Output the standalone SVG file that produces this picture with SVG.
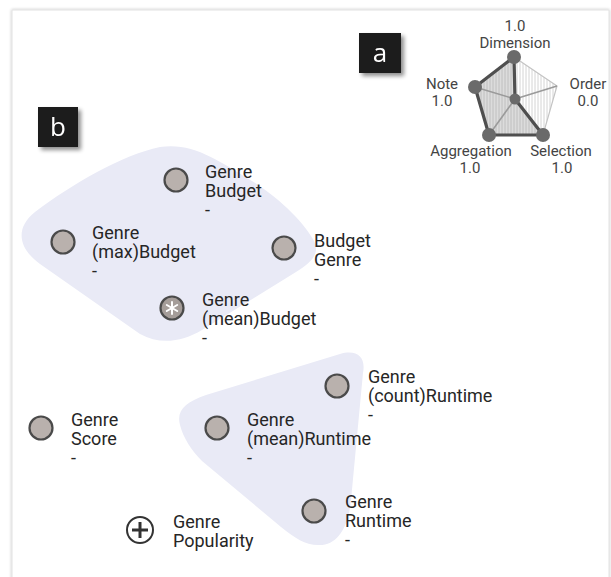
<svg xmlns="http://www.w3.org/2000/svg" width="611" height="577" viewBox="0 0 611 577">
<defs>
  <filter id="sh" x="-20%" y="-20%" width="150%" height="150%">
    <feGaussianBlur in="SourceAlpha" stdDeviation="2"/>
    <feOffset dx="3" dy="3"/>
    <feComponentTransfer><feFuncA type="linear" slope="0.45"/></feComponentTransfer>
    <feMerge><feMergeNode/><feMergeNode in="SourceGraphic"/></feMerge>
  </filter>
  <filter id="cardsh" x="-5%" y="-5%" width="110%" height="110%">
    <feGaussianBlur in="SourceAlpha" stdDeviation="1.5"/>
    <feComponentTransfer><feFuncA type="linear" slope="0.25"/></feComponentTransfer>
    <feMerge><feMergeNode/><feMergeNode in="SourceGraphic"/></feMerge>
  </filter>
  <pattern id="hatch" width="3" height="3" patternUnits="userSpaceOnUse">
    <rect width="3" height="3" fill="#ffffff"/>
    <line x1="1" y1="0" x2="1" y2="3" stroke="#cfcfcf" stroke-width="0.9"/>
  </pattern>
  <style>
    .node circle.dot { fill: #b9b1ad; stroke: #4a4a4a; stroke-width: 2.2; }
    .lbl { font-family: Roboto, "Liberation Sans", sans-serif; font-size: 18px; fill: #262626; }
    .rl { font-family: Roboto, "Liberation Sans", sans-serif; font-size: 15px; fill: #444444; text-anchor: middle; }
    .tag { font-family: "Open Sans", "Liberation Sans", sans-serif; font-size: 26px; fill: #ffffff; text-anchor: middle; }
    .blob { fill: #e9eaf6; }
    .vdot { fill: #6a6a6a; }
    .axis { stroke: #9a9a9a; stroke-width: 1.6; }
  </style>
</defs>

<rect width="611" height="577" fill="#ffffff"/>
<rect x="12" y="10" width="597" height="580" fill="#ffffff" stroke="#e2e2e2" stroke-width="1" filter="url(#cardsh)"/>

<!-- hulls -->
<g id="hulls">
  <path class="blob" d="M 160 147 C 192 142 218 160 252 181 C 282 200 305 224 314 241 C 320 254 312 262 296 272 L 202 330 C 182 342 160 345 140 334 L 40 264 C 18 248 15 228 35 212 C 72 184 122 155 160 147 Z"/>
  <path class="blob" d="M 180 425 C 176 410 186 402 206 395 L 340 354 C 358 349 366 358 363 373 L 351 500 C 348 530 336 546 318 545 C 305 545 295 538 281 527 L 202 461 C 191 450 183 437 180 425 Z"/>
</g>

<!-- radar chart -->
<g id="radar">
  <polygon points="514,57 557,86 543,135 489,135 475,87" fill="url(#hatch)" stroke="#c4c4c4" stroke-width="1.2"/>
  <polygon points="514,57 475,87 489,135 543,135 515,99" fill="#9a9a9a" fill-opacity="0.35"/>
  <line class="axis" x1="515" y1="99" x2="514" y2="57"/>
  <line class="axis" x1="515" y1="99" x2="557" y2="86"/>
  <line class="axis" x1="515" y1="99" x2="543" y2="135"/>
  <line class="axis" x1="515" y1="99" x2="489" y2="135"/>
  <line class="axis" x1="515" y1="99" x2="475" y2="87"/>
  <polygon points="514,57 475,87 489,135 543,135 515,99" fill="none" stroke="#4f4f4f" stroke-width="3.2" stroke-linejoin="round"/>
  <circle class="vdot" cx="514" cy="57" r="7"/>
  <circle class="vdot" cx="475" cy="87" r="7"/>
  <circle class="vdot" cx="489" cy="135" r="7"/>
  <circle class="vdot" cx="543" cy="135" r="7"/>
  <circle class="vdot" cx="515" cy="99" r="5.5"/>
  <text class="rl" x="515" y="31">1.0</text>
  <text class="rl" x="515" y="48">Dimension</text>
  <text class="rl" x="442" y="89">Note</text>
  <text class="rl" x="442" y="106">1.0</text>
  <text class="rl" x="588" y="89">Order</text>
  <text class="rl" x="588" y="106">0.0</text>
  <text class="rl" x="471" y="156">Aggregation</text>
  <text class="rl" x="561" y="156">Selection</text>
  <text class="rl" x="470" y="173">1.0</text>
  <text class="rl" x="562" y="173">1.0</text>
</g>

<!-- panel tags -->
<g id="tag-a" filter="url(#sh)">
  <rect x="359" y="33" width="42" height="40" fill="#1c1a1a"/>
  <text class="tag" x="380" y="62">a</text>
</g>
<g id="tag-b" filter="url(#sh)">
  <rect x="38" y="107" width="40" height="40" fill="#1c1a1a"/>
  <text class="tag" x="58" y="136">b</text>
</g>

<g id="connectors"></g>

<!-- nodes -->
<g id="n-genre-budget" class="node">
  <circle class="dot" cx="176" cy="180" r="11.5"/>
  <text class="lbl" x="205" y="178">Genre</text>
  <text class="lbl" x="205" y="197">Budget</text>
  <text class="lbl" x="205" y="216">-</text>
</g>
<g id="n-genre-maxbudget" class="node">
  <circle class="dot" cx="63" cy="242" r="11.5"/>
  <text class="lbl" x="92" y="239">Genre</text>
  <text class="lbl" x="92" y="258">(max)Budget</text>
  <text class="lbl" x="92" y="277">-</text>
</g>
<g id="n-budget-genre" class="node">
  <circle class="dot" cx="284" cy="248" r="11.5"/>
  <text class="lbl" x="314" y="247">Budget</text>
  <text class="lbl" x="314" y="266">Genre</text>
  <text class="lbl" x="314" y="285">-</text>
</g>
<g id="n-genre-meanbudget" class="node">
  <circle cx="172" cy="308" r="11.5" fill="#a59d99" stroke="#4a4a4a" stroke-width="2.2"/>
  <g stroke="#ffffff" stroke-width="2" stroke-linecap="round">
    <line x1="172" y1="302" x2="172" y2="314"/>
    <line x1="166.8" y1="305" x2="177.2" y2="311"/>
    <line x1="166.8" y1="311" x2="177.2" y2="305"/>
  </g>
  <text class="lbl" x="202" y="306">Genre</text>
  <text class="lbl" x="202" y="325">(mean)Budget</text>
  <text class="lbl" x="202" y="344">-</text>
</g>
<g id="n-genre-countruntime" class="node">
  <circle class="dot" cx="337" cy="386" r="11.5"/>
  <text class="lbl" x="368" y="383">Genre</text>
  <text class="lbl" x="368" y="402">(count)Runtime</text>
  <text class="lbl" x="368" y="421">-</text>
</g>
<g id="n-genre-score" class="node">
  <circle class="dot" cx="41" cy="428" r="11.5"/>
  <text class="lbl" x="71" y="426">Genre</text>
  <text class="lbl" x="71" y="445">Score</text>
  <text class="lbl" x="71" y="464">-</text>
</g>
<g id="n-genre-meanruntime" class="node">
  <circle class="dot" cx="217" cy="428" r="11.5"/>
  <text class="lbl" x="247" y="426">Genre</text>
  <text class="lbl" x="247" y="445">(mean)Runtime</text>
  <text class="lbl" x="247" y="464">-</text>
</g>
<g id="n-genre-runtime" class="node">
  <circle class="dot" cx="314" cy="511" r="11.5"/>
  <text class="lbl" x="345" y="508">Genre</text>
  <text class="lbl" x="345" y="527">Runtime</text>
  <text class="lbl" x="345" y="546">-</text>
</g>
<g id="n-genre-popularity" class="node">
  <circle cx="140" cy="530" r="13" fill="#ffffff" stroke="#333333" stroke-width="2"/>
  <g stroke="#333333" stroke-width="3">
    <line x1="132" y1="530" x2="148" y2="530"/>
    <line x1="140" y1="522" x2="140" y2="538"/>
  </g>
  <text class="lbl" x="173" y="528">Genre</text>
  <text class="lbl" x="173" y="547">Popularity</text>
</g>
</svg>
